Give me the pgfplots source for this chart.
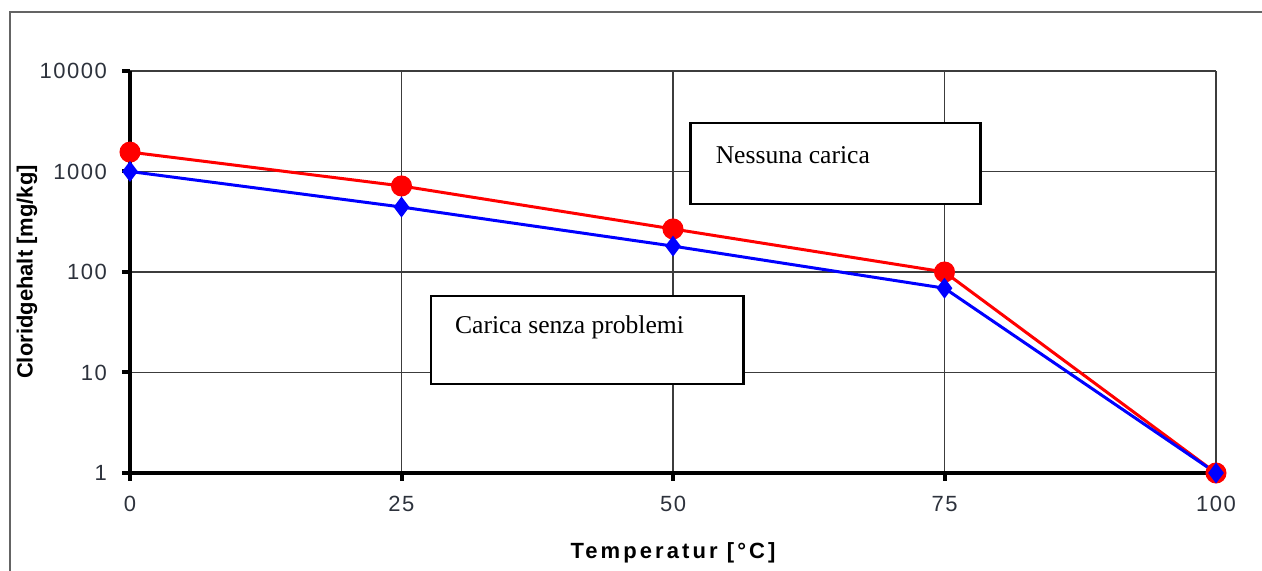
\documentclass[border=0pt]{standalone}
\usepackage{fontspec}
\setmainfont{Liberation Serif}
\newfontfamily\arialfont{Liberation Sans}
\newfontfamily\tickfont[LetterSpace=7]{Liberation Sans}
\newfontfamily\xlabfont[LetterSpace=14]{Liberation Sans}
\usepackage{pgfplots}
\pgfplotsset{compat=1.18}
\definecolor{gridgray}{RGB}{60,60,60}
\definecolor{framegray}{RGB}{100,100,100}
\definecolor{ticktext}{RGB}{45,50,60}
\begin{document}
\begin{tikzpicture}
\path[use as bounding box] (0,0) rectangle (631pt,285.5pt);
\draw[framegray, line width=1pt] (4.75pt,-10pt) -- (4.75pt,279.5pt) -- (645pt,279.5pt);
\begin{axis}[
  at={(65pt,49pt)}, anchor=south west,
  scale only axis, width=543pt, height=201pt,
  ymode=log, log basis y=10,
  xmin=0, xmax=100, ymin=1, ymax=10000,
  xtick={0,25,50,75,100},
  ytick={1,10,100,1000,10000},
  yticklabels={1,10,100,1000,10000},
  xticklabels={0,25,50,75,100},
  minor ytick={}, 
  axis x line*=bottom, axis y line*=left,
  axis line style={black, line width=2pt},
  grid=major,
  major grid style={gridgray, line width=0.85pt},
  tick align=outside,
  major tick length=4pt,
  every tick/.style={black, line width=2pt},
  tick label style={font=\tickfont\fontsize{11pt}{13pt}\selectfont, text=ticktext},
  /pgf/number format/assume math mode=true,
  yticklabel style={xshift=-4pt},
  xticklabel style={yshift=-4pt},
  xlabel={Temperatur [°C]},
  ylabel={Cloridgehalt [mg/kg]},
  xlabel style={font=\xlabfont\bfseries\fontsize{11pt}{13pt}\selectfont, at={(axis description cs:0.5,0)}, anchor=center, yshift=-40pt},
  ylabel style={font=\arialfont\bfseries\fontsize{11pt}{13pt}\selectfont, at={(axis description cs:0,0.5)}, anchor=center, yshift=51.5pt},
  clip=false,
]
\addplot[red, line width=1.5pt, mark=*, mark size=4.5pt, mark options={solid, fill=red, draw=red}]
  coordinates {(0,1560) (25,718) (50,268) (75,100) (100,1)};
\addplot[blue, line width=1.5pt, mark=diamond*, mark size=4pt, mark options={solid, fill=blue, draw=blue}]
  coordinates {(0,1000) (25,443) (50,181) (75,69) (100,1)};
\draw[black, line width=1.2pt, fill=white] (axis cs:51.6,3020) rectangle (axis cs:78.3,475);
\node[anchor=west, inner sep=0pt, font=\fontsize{12.8pt}{15pt}\selectfont] at (axis cs:53.9,1459) {Nessuna carica};
\draw[black, line width=1.2pt, fill=white] (axis cs:27.7,57.7) rectangle (axis cs:56.5,7.7);
\node[anchor=west, inner sep=0pt, font=\fontsize{12.8pt}{15pt}\selectfont] at (axis cs:29.9,28.4) {Carica senza problemi};
\end{axis}
\end{tikzpicture}
\end{document}
